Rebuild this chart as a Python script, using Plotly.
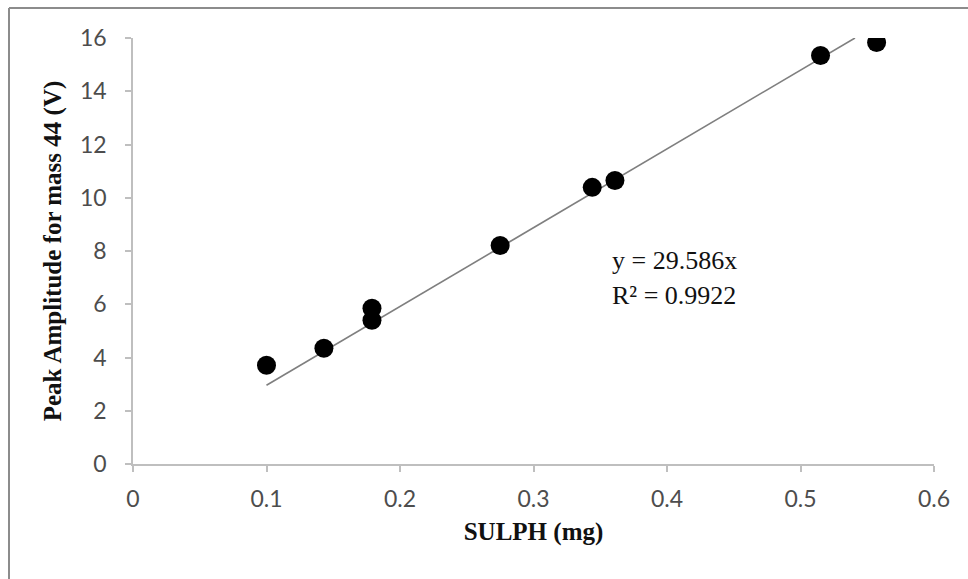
import plotly.graph_objects as go

# Data
sulph_mg = [0.100, 0.143, 0.179, 0.179, 0.275, 0.344, 0.361, 0.515, 0.557]
peak_amp = [3.71, 4.35, 5.40, 5.85, 8.21, 10.39, 10.65, 15.34, 15.83]
slope = 29.586
r2 = 0.9922
x_ticks = [0, 0.1, 0.2, 0.3, 0.4, 0.5, 0.6]
x_tick_text = ["0", "0.1", "0.2", "0.3", "0.4", "0.5", "0.6"]
y_ticks = [0, 2, 4, 6, 8, 10, 12, 14, 16]

W, H = 968, 579
ML, MR, MT, MB = 133, 34, 38, 115
pw, ph = W - ML - MR, H - MT - MB

# trendline (through origin), clipped at the axis maximum
y_max = 16
x0 = min(sulph_mg)
x1 = min(max(sulph_mg), y_max / slope)
trend_x = [x0, x1]
trend_y = [slope * v for v in trend_x]

fig = go.Figure()
fig.add_trace(go.Scatter(x=trend_x, y=trend_y, mode="lines",
                         line=dict(color="#7f7f7f", width=1.6),
                         showlegend=False, hoverinfo="skip"))
fig.add_trace(go.Scatter(x=sulph_mg, y=peak_amp, mode="markers",
                         marker=dict(color="black", size=19),
                         showlegend=False))

tick_font = dict(family="Lato, 'Open Sans', sans-serif", size=23, color="#4d4d4d")
title_font = dict(family="'Liberation Serif', 'Times New Roman', serif", size=25, color="#111111")

fig.update_xaxes(range=[0, 0.6], tickvals=x_ticks, ticktext=x_tick_text,
                 showgrid=False, zeroline=False, showline=True,
                 linecolor="#bfbfbf", linewidth=1.5, ticks="outside",
                 ticklen=6, tickcolor="#bfbfbf", tickwidth=1.5,
                 tickfont=tick_font, ticklabelstandoff=8,
                 title=dict(text="<b>SULPH (mg)</b>", font=title_font, standoff=11))
fig.update_yaxes(range=[0, 16], tickvals=y_ticks,
                 showgrid=False, zeroline=False, showline=True,
                 linecolor="#bfbfbf", linewidth=1.5, ticks="outside",
                 ticklen=6, tickcolor="#bfbfbf", tickwidth=1.5,
                 tickfont=tick_font, ticklabelstandoff=14,
                 title=dict(text="<b>Peak Amplitude for mass 44 (V)</b>", font=title_font, standoff=11))

eq_font = dict(family="'Liberation Serif', 'Times New Roman', serif", size=26, color="#111111")
fig.add_annotation(x=0.357, y=7.65, xref="x", yref="y", xanchor="left", yanchor="middle",
                   text=f"y = {slope}x", showarrow=False, font=eq_font)
fig.add_annotation(x=0.357, y=6.34, xref="x", yref="y", xanchor="left", yanchor="middle",
                   text=f"R² = {r2}", showarrow=False, font=eq_font)

# outer chart border (left and top edges visible)
bx = (9 - ML) / pw
by = 1 + (MT - 8) / ph
fig.add_shape(type="line", xref="paper", yref="paper", x0=bx, x1=bx, y0=-MB / ph - 0.05, y1=by,
              line=dict(color="#8c8c8c", width=2))
fig.add_shape(type="line", xref="paper", yref="paper", x0=bx, x1=1 + MR / pw + 0.05, y0=by, y1=by,
              line=dict(color="#8c8c8c", width=2))

fig.update_layout(width=W, height=H, margin=dict(l=ML, r=MR, t=MT, b=MB, autoexpand=False),
                  plot_bgcolor="white", paper_bgcolor="white")

fig.write_html("out.html")
